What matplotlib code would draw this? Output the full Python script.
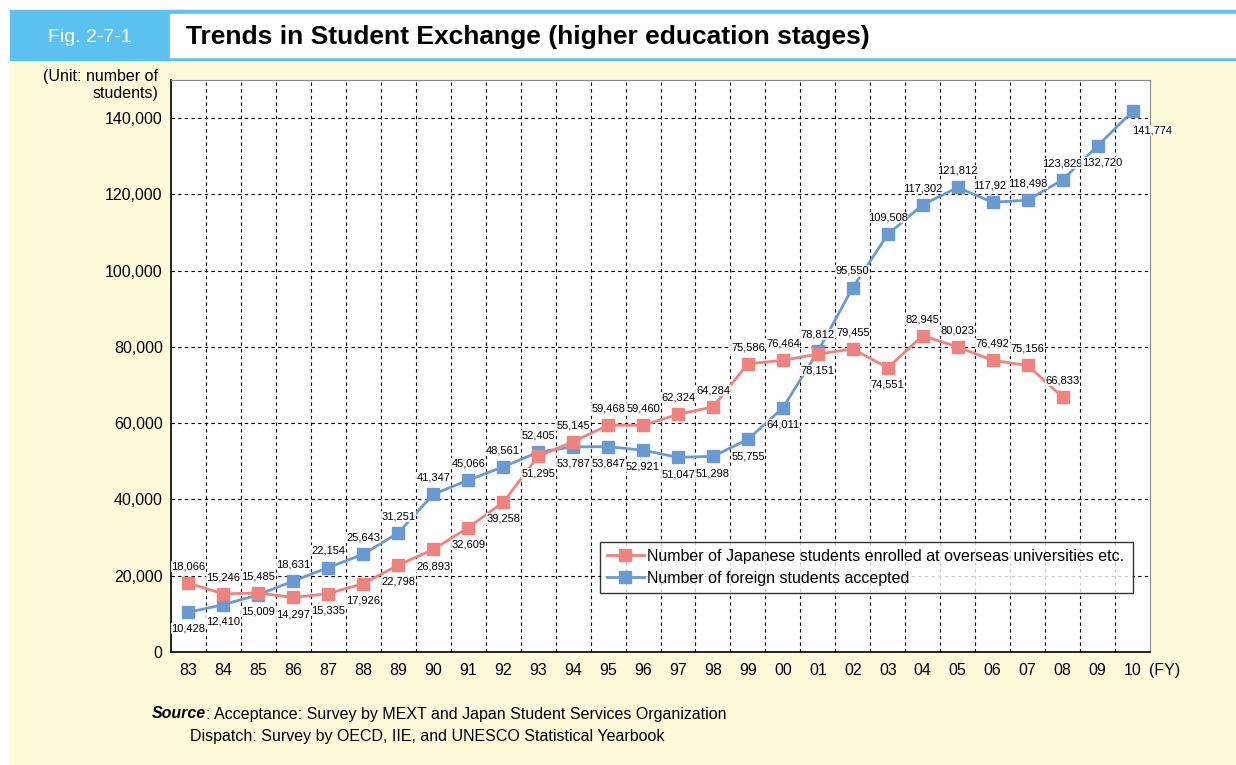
import matplotlib
matplotlib.use("Agg")
import matplotlib.pyplot as plt
from matplotlib.patches import Rectangle

plt.rcParams['font.family'] = ['Liberation Sans Narrow', 'Liberation Sans', 'DejaVu Sans']

# data
years = ['83', '84', '85', '86', '87', '88', '89', '90', '91', '92', '93', '94', '95',
         '96', '97', '98', '99', '00', '01', '02', '03', '04', '05', '06', '07', '08',
         '09', '10']
japanese = [18066, 15246, 15485, 14297, 15335, 17926, 22798, 26893, 32609, 39258,
            51295, 55145, 59468, 59460, 62324, 64284, 75586, 76464, 78151, 79455,
            74551, 82945, 80023, 76492, 75156, 66833]
foreign = [10428, 12410, 15009, 18631, 22154, 25643, 31251, 41347, 45066, 48561,
           52405, 53787, 53847, 52921, 51047, 51298, 55755, 64011, 78812, 95550,
           109508, 117302, 121812, 117927, 118498, 123829, 132720, 141774]
label_jp = 'Number of Japanese students enrolled at overseas universities etc.'
label_fr = 'Number of foreign students accepted'

# where each value label sits: a = above, b = below, c = below, nudged right, r = below-right
pos_jp = 'aaa' + 'b' * 8 + 'a' * 7 + 'bab' + 'a' * 5
pos_fr = 'bbb' + 'a' * 8 + 'b' * 7 + 'a' * 8 + 'cr'

red = '#EF837F'
blue = '#6A9AD2'
yellow = '#FFFADA'
hblue = '#5BC2EF'

fig = plt.figure(figsize=(12.36, 7.65), dpi=100)
W, H = 1236, 765

def box(x0, y0, x1, y1, color):
    fig.patches.append(Rectangle((x0 / W, 1 - y1 / H), (x1 - x0) / W, (y1 - y0) / H,
                                 transform=fig.transFigure, color=color, zorder=-5))

box(10, 60, W, H, yellow)
box(10, 10, W, 60, hblue)
box(170, 14, W, 57, 'white')

fig.text(90 / W, 1 - 37 / H, 'Fig. 2-7-1', color='white', fontsize=14,
         ha='center', va='center')
fig.text(186 / W, 1 - 37 / H, 'Trends in Student Exchange (higher education stages)',
         fontsize=19, fontweight='bold', family='Liberation Sans', ha='left', va='center')
fig.text(158 / W, 1 - 85 / H, '(Unit: number of\nstudents)', fontsize=11.5,
         ha='right', va='center', linespacing=1.15)
fig.text(1165 / W, 1 - 670 / H, '(FY)', fontsize=11.5, ha='center', va='center')
src = fig.text(152 / W, 1 - 714 / H, 'Source', fontsize=11.5, fontweight='bold',
               fontstyle='italic', ha='left', va='center')
fig.text(190 / W, 1 - 737 / H, 'Dispatch: Survey by OECD, IIE, and UNESCO Statistical Yearbook',
         fontsize=11.5, ha='left', va='center')

ax = fig.add_axes([171 / W, 1 - 652 / H, (1150 - 171) / W, (652 - 80) / H])
ax.set_facecolor('white')

x_jp = list(range(len(japanese)))
x_fr = list(range(len(foreign)))
ax.plot(x_fr, foreign, color=blue, lw=2, marker='s', ms=8.5, label=label_fr, zorder=3)
ax.plot(x_jp, japanese, color=red, lw=2, marker='s', ms=8.5, label=label_jp, zorder=4)

offsets = {'a': (0, 12), 'b': (0, -12), 'c': (3, -12), 'r': (14, -14)}
for xs, vals, pos in ((x_jp, japanese, pos_jp), (x_fr, foreign, pos_fr)):
    for xi, v, p in zip(xs, vals, pos):
        dx, dy = offsets[p]
        ax.annotate(f'{v:,}', (xi, v), xytext=(dx, dy), textcoords='offset points',
                    ha='center', va='center', fontsize=8, zorder=5,
                    bbox=dict(boxstyle='square,pad=0.05', fc='white', ec='none', alpha=0.85))

ax.set_xlim(-0.5, len(years) - 0.5)
ax.set_ylim(0, 150000)
ax.set_xticks(range(len(years)))
ax.set_xticklabels(years, fontsize=11.5)
ax.set_yticks(range(0, 140001, 20000))
ax.set_yticklabels([f'{t:,}' for t in range(0, 140001, 20000)], fontsize=11.5)
ax.tick_params(axis='y', length=0, pad=6)
ax.tick_params(axis='x', length=0, pad=8)
ax.set_xticks([i + 0.5 for i in range(len(years) - 1)], minor=True)
ax.tick_params(which='minor', length=0)
ax.grid(axis='y', which='major', color='black', ls=(0, (3, 3)), lw=0.8)
ax.grid(axis='x', which='minor', color='black', ls=(0, (3, 3)), lw=0.8)
ax.set_axisbelow(True)
for s in ('top', 'right'):
    ax.spines[s].set_color('#888888')
for s in ('left', 'bottom'):
    ax.spines[s].set_color('black')
    ax.spines[s].set_linewidth(1.2)

handles, labels = ax.get_legend_handles_labels()
leg = ax.legend(handles[::-1], labels[::-1], loc='lower left',
                bbox_to_anchor=(0.438, 0.103, 0.545, 0.105), mode='expand',
                fontsize=11.5, frameon=True, fancybox=False, edgecolor='black',
                handlelength=2.3, handletextpad=0.2, borderpad=0.45, labelspacing=0.45,
                borderaxespad=0)
leg.get_frame().set_linewidth(1)
leg.set_zorder(6)

# ": Acceptance ..." right after the bold italic "Source"
fig.canvas.draw()
ext = src.get_window_extent()
fig.text(ext.x1 / W, 1 - 714 / H,
         ': Acceptance: Survey by MEXT and Japan Student Services Organization',
         fontsize=11.5, ha='left', va='center')

fig.savefig('out.png', dpi=100)
